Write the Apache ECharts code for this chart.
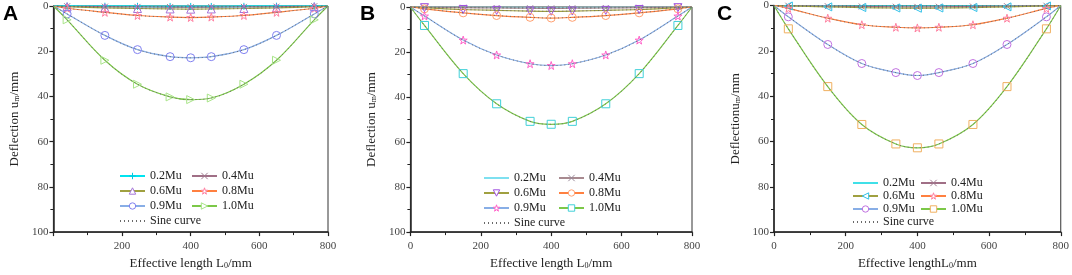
<!DOCTYPE html>
<html>
<head>
<meta charset="utf-8">
<script src="https://cdn.jsdelivr.net/npm/echarts@6/dist/echarts.min.js"></script>
<style>
  body { margin: 0; background: #fff; }
  .pn { position: absolute; top: 0; height: 275px; }
</style>
</head>
<body>
<div id="pa" class="pn" style="left:0;width:357px"></div>
<div id="pb" class="pn" style="left:357px;width:357px"></div>
<div id="pc" class="pn" style="left:714px;width:358px"></div>
<script>
// effective length positions (mm)
const xs = [0, 40, 150, 245, 340, 400, 460, 555, 650, 760, 800];

// panel A deflection (mm)
const a02 = [0, 0.05, 0.1, 0.15, 0.2, 0.2, 0.2, 0.15, 0.1, 0.05, 0];
const a04 = [0, 0.1, 0.3, 0.4, 0.5, 0.55, 0.5, 0.4, 0.3, 0.1, 0];
const a06 = [0, 0.3, 0.8, 1.1, 1.3, 1.4, 1.3, 1.1, 0.8, 0.3, 0];
const a08 = [0, 1.0, 2.8, 4.2, 4.9, 5.1, 4.9, 4.2, 2.8, 1.0, 0];
const a09 = [0, 3.5, 13, 19.3, 22.4, 22.9, 22.4, 19.3, 13, 3.5, 0];
const a10 = [0, 6.1, 24, 34.6, 40.2, 41.4, 40.7, 34.6, 24, 6.1, 0];

// panel B
const b02 = [0, 0.02, 0.05, 0.08, 0.1, 0.1, 0.1, 0.08, 0.05, 0.02, 0];
const b04 = [0, 0.1, 0.3, 0.45, 0.55, 0.6, 0.55, 0.45, 0.3, 0.1, 0];
const b06 = [0, 0.3, 1.1, 1.5, 1.8, 1.9, 1.8, 1.5, 1.1, 0.3, 0];
const b08 = [0, 0.8, 2.6, 3.8, 4.6, 4.9, 4.6, 3.8, 2.6, 0.8, 0];
const b09 = [0, 4, 14.7, 21.3, 25.2, 26, 25.2, 21.3, 14.7, 4, 0];
const b10 = [0, 8.2, 29.6, 43, 50.8, 52.1, 50.8, 43, 29.6, 8.2, 0];

// panel C
const c02 = [0, 0.03, 0.08, 0.12, 0.15, 0.15, 0.15, 0.12, 0.08, 0.03, 0];
const c04 = [0, 0.1, 0.3, 0.45, 0.55, 0.6, 0.55, 0.45, 0.3, 0.1, 0];
const c06 = [0, 0.2, 0.6, 0.9, 1.1, 1.2, 1.1, 0.9, 0.6, 0.2, 0];
const c08 = [0, 1.3, 5.6, 8.5, 9.6, 9.9, 9.6, 8.5, 5.6, 1.3, 0];
const c09 = [0, 5, 17.2, 25.6, 29.6, 30.9, 29.6, 25.6, 17.2, 5, 0];
const c10 = [0, 10.3, 35.8, 52.5, 61.1, 62.8, 61.1, 52.5, 35.8, 10.3, 0];

const names = ['0.2Mu', '0.4Mu', '0.6Mu', '0.8Mu', '0.9Mu', '1.0Mu'];
const xTicks = [0, 200, 400, 600, 800];
const yTicks = [0, 20, 40, 60, 80, 100];

const FONT = "'Liberation Serif', 'Times New Roman', serif";

const STAR = 'path://M50,0 L61,35 L98,35 L68,57 L79,91 L50,70 L21,91 L32,57 L2,35 L39,35 Z';
const PLUS = 'path://M5,0 L5,10 M0,5 L10,5';
const CROSS = 'path://M0,0 L10,10 M10,0 L0,10';
const BLANK = 'path://M0,0 L10,10';
const CLEAR = 'rgba(255,255,255,0)';

function build(id, cfg) {
    const chart = echarts.init(document.getElementById(id), null, { renderer: 'canvas' });
    const series = [];
    cfg.data.forEach((vals, i) => {
        const m = cfg.marks[i];
        series.push({
            name: names[i],
            type: 'line',
            data: xs.map((x, j) => [x, vals[j]]),
            smooth: 0.35,
            symbol: m.symbol,
            symbolRotate: m.rotate || 0,
            symbolSize: v => (v[1] === 0 ? 0 : m.size),
            lineStyle: { color: m.line, width: m.width || 1.2 },
            itemStyle: { color: CLEAR, borderColor: m.mark, borderWidth: 1 },
            z: 2
        });
    });
    cfg.data.forEach(vals => {
        series.push({
            name: 'Sine curve',
            type: 'line',
            data: xs.map((x, j) => [x, vals[j]]),
            smooth: 0.35,
            symbol: BLANK,
            symbolSize: 0,
            lineStyle: { color: '#6a6a6a', width: 1, type: [1, 3] },
            itemStyle: { color: CLEAR, borderColor: CLEAR },
            z: 3
        });
    });

    chart.setOption({
        animation: false,
        textStyle: { fontFamily: FONT },
        graphic: [{
            type: 'text', left: 3, top: 4,
            style: { text: cfg.tag, font: "bold 21px 'Liberation Sans', Arial, sans-serif", fill: '#000' }
        }],
        grid: Object.assign({ show: true, borderColor: '#333', borderWidth: 1, backgroundColor: 'transparent' }, cfg.grid),
        legend: {
            left: cfg.legend.left, top: cfg.legend.top, width: 162,
            data: names.concat(['Sine curve']),
            itemWidth: 25, itemHeight: 8, itemGap: 1,
            itemStyle: { color: '#ffffff', borderWidth: 1 },
            textStyle: { fontFamily: FONT, fontSize: 12, color: '#222', width: cfg.legend.tw, lineHeight: cfg.legend.lh }
        },
        xAxis: {
            type: 'value', min: 0, max: 800, interval: 200,
            name: cfg.xName, nameLocation: 'middle', nameGap: 22,
            nameTextStyle: {
                fontFamily: FONT, fontSize: 13, color: '#222',
                rich: { s: { fontFamily: FONT, fontSize: 8, color: '#222', verticalAlign: 'bottom', lineHeight: 8 } }
            },
            axisLine: { onZero: false, lineStyle: { color: '#222', width: 1.5 } },
            axisTick: { length: 4, lineStyle: { color: '#222', width: 1.2 } },
            minorTick: { show: true, splitNumber: 2, length: 3, lineStyle: { color: '#222' } },
            axisLabel: {
                fontFamily: FONT, fontSize: 11, color: '#444', margin: 9,
                showMinLabel: cfg.showZero,
                formatter: v => (xTicks.indexOf(v) >= 0 ? v : '')
            },
            splitLine: { show: false }
        },
        yAxis: {
            type: 'value', min: 0, max: 100, interval: 20, inverse: true,
            name: cfg.yName, nameLocation: 'middle', nameGap: cfg.yGap,
            nameTextStyle: {
                fontFamily: FONT, fontSize: 13, color: '#222',
                rich: { s: { fontFamily: FONT, fontSize: 8, color: '#222', verticalAlign: 'bottom', lineHeight: 8 } }
            },
            axisLine: { show: true, lineStyle: { color: '#222', width: 1.5 } },
            axisTick: { show: true, length: 4, lineStyle: { color: '#222', width: 1.2 } },
            minorTick: { show: true, splitNumber: 2, length: 3, lineStyle: { color: '#222' } },
            axisLabel: {
                fontFamily: FONT, fontSize: 11, color: '#444', margin: 5,
                formatter: v => (yTicks.indexOf(v) >= 0 ? v : '')
            },
            splitLine: { show: false }
        },
        series: series
    });
}

build('pa', {
    tag: 'A',
    data: [a02, a04, a06, a08, a09, a10],
    grid: { left: 39, top: 6, width: 289, height: 231 },
    legend: { left: 114, top: 164, lh: 14, tw: 40 },
    showZero: false,
    xName: 'Effective length L{s|0}/mm',
    yName: 'Deflection u{s|m}/mm',
    yGap: 25,
    marks: [
        { symbol: PLUS, line: '#00e4f0', mark: '#00c8e0', size: 7, width: 2 },
        { symbol: CROSS, line: '#a06f86', mark: '#a07a90', size: 6 },
        { symbol: 'triangle', line: '#a0a040', mark: '#a474d8', size: 8 },
        { symbol: STAR, line: '#ff8040', mark: '#ff7fa0', size: 8 },
        { symbol: 'circle', line: '#88aee6', mark: '#8080f0', size: 8 },
        { symbol: 'triangle', rotate: -90, line: '#7cc848', mark: '#a8e488', size: 8 }
    ]
});

build('pb', {
    tag: 'B',
    data: [b02, b04, b06, b08, b09, b10],
    grid: { left: 50, top: 7, width: 285, height: 231 },
    legend: { left: 121, top: 166, lh: 14, tw: 43 },
    showZero: true,
    xName: 'Effective length L{s|0}/mm',
    yName: 'Deflection u{s|m}/mm',
    yGap: 26,
    marks: [
        { symbol: BLANK, line: '#7ee0f0', mark: CLEAR, size: 0 },
        { symbol: CROSS, line: '#a88a90', mark: '#9a8a9a', size: 6 },
        { symbol: 'triangle', rotate: 180, line: '#a0a040', mark: '#a050e0', size: 8 },
        { symbol: 'circle', line: '#ff8040', mark: '#ffa070', size: 8 },
        { symbol: STAR, line: '#88aee6', mark: '#ff60c8', size: 8 },
        { symbol: 'rect', line: '#7cc848', mark: '#40d0d8', size: 8 }
    ]
});

build('pc', {
    tag: 'C',
    data: [c02, c04, c06, c08, c09, c10],
    grid: { left: 60, top: 4, width: 290, height: 233 },
    legend: { left: 133, top: 172, lh: 12, tw: 36 },
    showZero: true,
    xName: 'Effective lengthL{s|0}/mm',
    yName: 'Deflectionu{s|m}/mm',
    yGap: 30,
    marks: [
        { symbol: BLANK, line: '#40e0e8', mark: CLEAR, size: 0 },
        { symbol: CROSS, line: '#a06f86', mark: '#a07a90', size: 6 },
        { symbol: 'triangle', rotate: 90, line: '#a0a040', mark: '#30c0e8', size: 8 },
        { symbol: STAR, line: '#ff8040', mark: '#ff80a0', size: 8 },
        { symbol: 'circle', line: '#88aee6', mark: '#c070e0', size: 8 },
        { symbol: 'rect', line: '#7cc848', mark: '#f0b060', size: 8 }
    ]
});
</script>
</body>
</html>
